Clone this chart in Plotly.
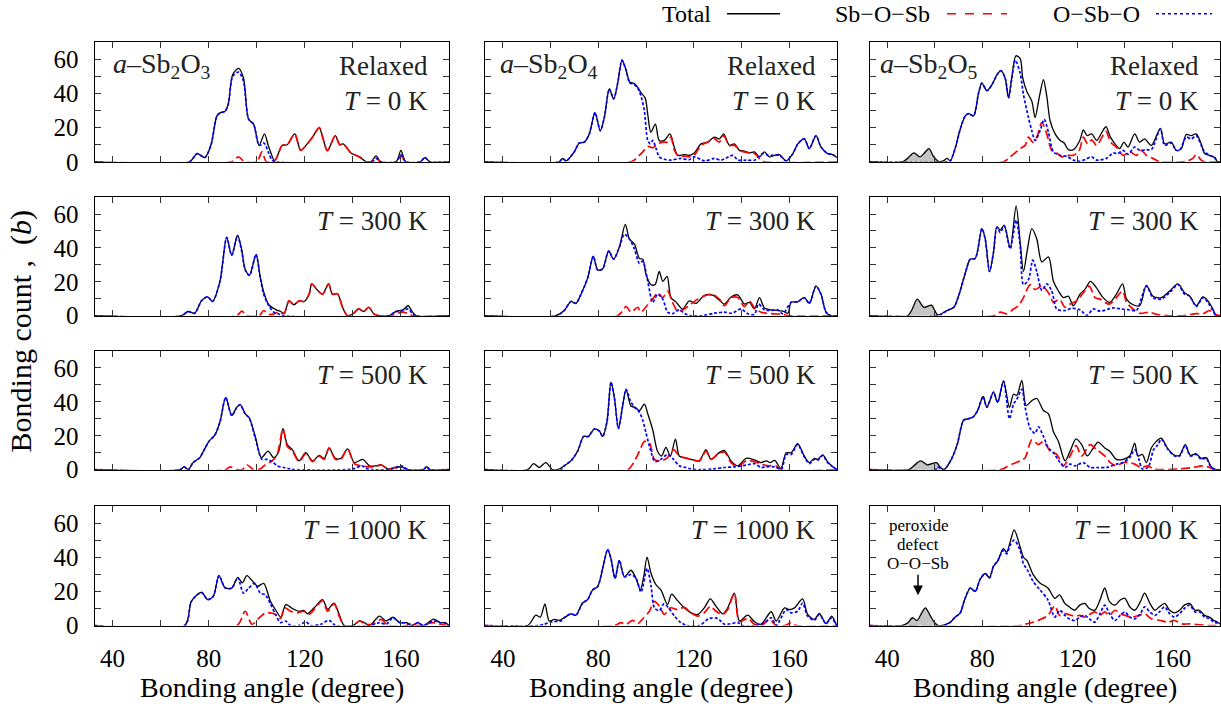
import plotly.graph_objects as go

# ---------------- data (x = bonding angle in degree, y = bonding count) ----------------
# Row 1: Relaxed (T = 0 K)
TOT_11 = [(32.5,0),(72,0),(75.2,4.8),(78.4,2.5),(81,10),(83.5,27),(85,28.8),(86.8,29.5),(88.2,34),(90,51),(92.5,54.7),(94.5,49),(96.6,25),(98.7,22),(101,9.6),(103.2,16.3),(105,8.6),(107.5,0.5),(108.5,3),(110.6,9.6),(112.7,10),(115.8,16.3),(118.3,6.7),(121,10.5),(123.2,14.4),(126,20),(127.5,14),(129.4,6.5),(132.7,15.3),(134.5,10),(136,10.5),(139.2,5.2),(142.7,2.9),(145.5,0),(147.5,0),(149.7,3.5),(151.5,0),(158,0),(160,6.7),(162,0),(168,0),(170,2.5),(172,0),(180,0)]
RED_11 = [(32.5,0),(89.5,0),(92.4,2.9),(95,0),(100,0),(102.2,5.8),(104,0),(107,0),(108.5,3),(110.6,9.6),(112.7,10),(115.8,16.3),(118.3,6.7),(121,10.5),(123.2,14.4),(126,20),(127.5,14),(129.4,6.5),(132.7,15.3),(134.5,10),(136,10.5),(139.2,5.2),(142.7,2.9),(145.5,0),(147.5,0),(149.7,2.3),(151.5,0),(158,0),(160,3.8),(162,0),(180,0)]
BLUE_11 = [(32.5,0),(72,0),(75.2,4.8),(78.4,2.5),(81,10),(83.5,27),(85,28.8),(86.8,29.5),(88.2,34),(90,50),(92.5,52.5),(94.5,47),(96.6,25),(98.7,22),(101,9.6),(103,11),(105,5),(106.4,1),(108,0),(148,0),(149.7,2),(151.5,0),(158,0),(160,4),(162,0),(168,0),(170,2.5),(172,0),(180,0)]

TOT_12 = [(32.5,0),(63.6,0),(65,2),(66.5,0.5),(69.9,5.8),(72,11),(74.1,11.5),(76.2,16.3),(78.6,28.8),(80.8,18.2),(82.5,25.9),(84.6,42.6),(86.4,36.8),(88.1,46),(89.9,59.5),(91.6,53.7),(93.2,46.5),(94.8,46),(96.5,43.5),(97.9,40.3),(99.6,37.4),(100.7,27.8),(102,17.3),(103.9,22),(105.5,12.5),(107.6,12.5),(110,16.3),(111.8,8.6),(113.2,3.8),(116,4.2),(118.1,3.8),(120.2,5.2),(123,10.5),(125.8,11.5),(128.6,14.4),(130.7,13.4),(132.5,16.3),(134.9,9.6),(137,10.5),(139.1,6.7),(141.2,6.3),(143.3,5.2),(145.4,5.8),(147.5,2.9),(149.6,5.8),(151.7,2.9),(153.8,3.8),(155.9,4.2),(158.7,0.6),(161.5,4.8),(163.6,10.5),(166.3,13.4),(168.4,7.7),(171.2,15.3),(173.3,8.6),(176.1,4.8),(178.2,4.2),(180,2.5)]
RED_12 = [(32.5,0),(93.7,0),(96.5,2.9),(98.6,5.8),(100.7,9),(102.8,8.2),(104.9,10.5),(107,11.5),(108.8,11.5),(110.4,14.4),(111.8,7),(113.9,2.9),(116,3.3),(118.1,2.9),(120.2,3.8),(123,9.6),(125.8,11.5),(128.6,13.4),(130.7,11.5),(132.5,15.3),(134.9,9.6),(137,9.6),(139.8,6.3),(142.6,5.4),(145.4,4.8),(148.2,1),(149.6,0),(180,0)]
BLUE_12 = [(32.5,0),(63.6,0),(65,2),(66.5,0.5),(69.9,5.8),(72,11),(74.1,11.5),(76.2,16.3),(78.6,28.8),(80.8,18.2),(82.5,25.9),(84.6,42.6),(86.4,36.8),(88.1,46),(89.9,59.5),(91.6,53.7),(93.2,46),(94.8,45.5),(96.5,43),(97.9,38.4),(99.3,29.7),(100.7,12.5),(101.8,10.5),(102.8,12.5),(104.2,7.7),(105.5,2.9),(107.6,1.5),(110.4,1),(114.6,2),(118,1.2),(120.2,2.9),(124.5,0.5),(128.6,2),(131.5,1),(136.3,3.8),(138.5,1),(142,1),(145.5,1),(148.9,4.8),(151,3.8),(153.8,3.8),(155.9,3.8),(158.7,0.6),(161.5,4.8),(163.6,10.5),(166.3,13.4),(168.4,7.7),(171.2,15.3),(173.3,8.6),(176.1,4.8),(178.2,4.2),(180,2.5)]

GREY_13 = [(46.5,0),(48.5,2),(51.2,5.2),(53.7,2.9),(55.5,5),(57.5,7.7),(59.5,3),(61.5,0)]
TOT_13 = [(32.5,0),(46.5,0),(48.5,2),(51.2,5.2),(53.7,2.9),(55.5,5),(57.5,7.7),(59.5,3),(61.5,0.3),(63.5,0.5),(65.2,2),(66.5,0.5),(68.7,8.6),(70.7,19.2),(72.8,26.9),(74.2,28.2),(76.3,26.9),(78.4,40.3),(79.8,46),(81.9,41.6),(84,45),(86.1,50.8),(87.8,53.3),(89.6,48.9),(91,37.4),(92.4,49.5),(94.1,62),(95.9,60.4),(97,48.9),(98.7,41.2),(100.8,35.5),(102.2,25.9),(103.9,37.4),(105.7,48),(107.1,38.4),(108.5,24),(110.6,16.3),(112.7,12.5),(114.4,11),(116.2,7.1),(118.3,7.1),(121,12.5),(122.5,18.6),(124.1,15.3),(126,16.3),(128.1,12.5),(130.1,16.7),(132,20.5),(133.9,14.4),(135.8,10.5),(137.8,7.7),(139.6,11.5),(141.3,8.6),(144.1,16.3),(146.2,11.5),(148.3,13.4),(151.1,9.6),(154.9,19.6),(156.7,10.5),(159.5,11.5),(161.6,6.7),(163.7,7.7),(165.8,16),(167.9,15.3),(170,16.3),(172.1,10.5),(173.5,4.8),(175.6,3.8),(177.7,2.5),(179,0),(180,0)]
RED_13 = [(32.5,0),(88.9,0),(91.7,2.9),(93.8,5.2),(95.9,7.7),(98,9.6),(99.4,14.4),(101.2,11.5),(102.9,14.4),(105,23),(107.1,16.3),(109.2,6.7),(111.3,5.2),(113.4,2.9),(115.5,3.8),(118.3,3.8),(120.8,6.7),(122.5,14.4),(124.3,10.5),(126,12.8),(128.1,9.6),(132,17.8),(133.9,11.5),(136.4,8.6),(139.2,3.8),(142,5.8),(144.8,3.8),(146.9,6.7),(149,3.8),(151.8,2),(154.6,0),(165.8,0.3),(168.6,2),(170,4.2),(172.1,1),(173.5,0),(180,0)]
BLUE_13 = [(32.5,0),(65.2,0),(66.5,0.5),(68.7,8.6),(70.7,19.2),(72.8,26.9),(74.2,28.2),(76.3,26.9),(78.4,40.3),(79.8,46),(81.9,41.6),(84,45),(86.1,50.8),(87.8,53.3),(89.6,48.9),(91,37.4),(92.4,48.9),(93.9,59.5),(95.9,51.8),(97.3,39.3),(99.4,25.9),(100.8,18.2),(102.2,12.5),(104.3,18.2),(106,24.9),(107.8,17.3),(109.9,5.8),(112.7,3.8),(115.5,3.2),(118.3,1),(121,0.3),(123.5,1.5),(126,2.9),(128,1),(132.2,2),(135,5.2),(137,4.8),(139.2,6.7),(141.3,4.4),(144.1,8.6),(146.2,6.7),(149,7.1),(151.1,7.1),(154.9,19.2),(156.7,9.6),(159.5,11),(161.6,6.7),(163,6.7),(165.8,14.4),(167.9,13.4),(170,15.3),(172.1,9.6),(173.5,5.8),(175.6,3.8),(177.7,2.5),(179,0),(180,0)]

# Row 2: T = 300 K
TOT_21 = [(32.5,0),(68.7,0),(71.4,2.5),(74.2,1.5),(77,8.8),(79.6,11.1),(81.6,8.4),(84.7,20.3),(87.5,46.2),(89.6,35.7),(92,47.5),(93.8,38.5),(95.2,27.5),(97,24),(99.7,36.1),(101.5,22.5),(102.9,14),(105,6.5),(107.8,3.8),(109.9,2.5),(111.5,1.5),(113.4,8.8),(115.5,6.5),(117.6,8.8),(119.7,8.4),(121.8,12.7),(122.9,18.8),(125.3,15),(127.4,12.7),(129.9,18.8),(131.5,12.7),(133.6,13),(135.7,5),(137.8,0),(140,1),(142.4,4),(144.5,2.5),(146.6,5),(148.8,1),(151,0),(155,0),(158.1,2.7),(160.9,3.5),(163,5.9),(164.9,2),(166.5,0),(180,0)]
RED_21 = [(32.5,0),(91.5,0),(93.8,2.7),(95.9,0),(101,0),(102.9,3.1),(104.9,0.8),(107,1),(109.2,2.3),(111.3,1.2),(113.4,8.8),(115.5,6.5),(117.6,8.8),(119.7,8.4),(121.8,12.7),(122.9,18.8),(125.3,15),(127.4,12.7),(129.9,18.8),(131.5,12.7),(133.6,13),(135.7,5),(137.8,0),(140,1),(142.4,4),(144.5,2.5),(146.6,5),(148.8,1),(151,0),(156,0),(158.8,1.5),(160.9,2.1),(163,1.2),(165,0),(180,0)]
BLUE_21 = [(32.5,0),(68.7,0),(71.4,2.5),(74.2,1.5),(77,8.8),(79.6,11.1),(81.6,8.4),(84.7,20.3),(87.5,46.2),(89.6,35.7),(92,47.2),(93.8,37.6),(95.2,27),(97,23.8),(99.7,36.1),(101.5,22.2),(102.9,12.7),(105,6),(107.1,2.1),(109.2,1),(111.3,0),(155,0),(157.4,2.1),(160.9,3.1),(163,4),(165.8,0),(180,0)]

TOT_22 = [(32.5,0),(62.2,0),(65.7,3.1),(68.5,8.4),(70.6,7.3),(72.7,12.7),(75.5,22.2),(77.9,35.1),(79.7,27),(81.8,27.6),(84.3,38.2),(86.4,33.4),(88.8,40.5),(91.3,53.9),(93,45.3),(95.1,42.4),(97.2,33.8),(98.6,33.4),(100,24.2),(102,18.4),(103.8,18.4),(105.5,26.1),(107,20.3),(108.8,23.2),(110.4,10.7),(112.5,8.2),(115.3,4),(118.1,8.8),(120.9,7.3),(124.5,12.1),(127.9,12.1),(130.7,9.2),(132.8,6.9),(135.6,11.1),(138.4,12.3),(141.2,6.9),(143.3,7.9),(145.4,4),(147.5,10.7),(149.6,4.6),(152.4,3.5),(157.3,2.7),(159.4,1.5),(160.8,7.9),(163.5,8.2),(166.3,10.7),(168.4,7.3),(171.2,17.5),(173.3,12.7),(175.4,2.1),(177.5,0),(180,0)]
RED_22 = [(32.5,0),(88.1,0),(91.6,5.4),(93.7,2.1),(96.5,5),(97.9,2.1),(100.7,6.5),(103.2,10.7),(104.8,13.6),(107,10.7),(109,14.6),(111.1,7.9),(113.2,2.7),(116,4),(118.8,6.9),(121.6,9.8),(124.5,11.7),(127.9,12.7),(130.7,9.8),(132.8,5.9),(135.6,10.7),(138.4,10.7),(141.2,5.4),(143.3,8.8),(145.4,4.6),(148.2,2.1),(152.4,1.2),(157.3,0.8),(160.1,0),(180,0)]
BLUE_22 = [(32.5,0),(62.2,0),(65.7,3.1),(68.5,8.4),(70.6,7.3),(72.7,12.7),(75.5,22.2),(77.9,35.1),(79.7,27),(81.8,27.6),(84.3,38.2),(86.4,33.4),(88.8,40.5),(90.9,48.1),(93,45.3),(95.1,39.5),(97.2,30.9),(98.6,32.2),(100.7,20.3),(102.8,7.9),(104.8,12.7),(107,9.8),(109,2.1),(111.1,1.2),(113.9,3.5),(116,1.5),(118.8,0),(124,0.2),(128.6,1.5),(132.8,2.1),(136,1.5),(139.8,4),(142.6,1.2),(145.4,0.8),(147.1,6.9),(149.6,3.5),(152.4,3.1),(155.2,3.5),(157.3,1.2),(160.8,7.9),(163.5,8.2),(166.3,10.7),(168.4,7.3),(171.2,17.5),(173.3,12.7),(175.4,2.1),(177.5,0),(180,0)]

GREY_23 = [(48.5,0),(50.5,4),(52.6,9.8),(55.4,5),(58.6,6.3),(60,3),(61.2,0.5)]
TOT_23 = [(32.5,0),(48.5,0),(50.5,4),(52.6,9.8),(55.4,5),(58.6,6.3),(60,3),(61.2,0.5),(65.2,3.1),(68,5),(70,11.7),(72.8,25.1),(74.9,33.4),(77,33.8),(79.8,51.4),(81.2,45.3),(83,26.1),(84.7,37.6),(86.1,52.5),(87.5,50.5),(89.2,53.5),(91.7,40),(94.2,64.8),(95.9,43.5),(97.3,26.1),(99,39.5),(100.8,51.4),(102.9,45.3),(105,31.8),(107.8,34.7),(109.9,20.3),(112,14.6),(114.1,10.7),(116.2,11.5),(118.3,5.9),(121.1,12.7),(123.2,15.7),(125.5,20.3),(127.8,16.9),(130.8,10.7),(133.6,7.9),(136.4,12.7),(139,18.8),(140.7,9.8),(143.4,6.5),(146.2,5.9),(149,17.9),(151.8,11.5),(155.3,10.7),(158.8,14.6),(162.3,18.8),(165.1,13.6),(167.2,11.7),(170,5.9),(172.8,11.1),(174.9,8.8),(177,4),(178.4,0),(180,0)]
RED_23 = [(32.5,0),(84.7,0),(87.5,2.1),(90.3,1.2),(93.1,4),(95.2,5.9),(97.3,10.7),(100.1,18.4),(102.2,15.5),(105,17.5),(107.8,13.6),(109.9,7.9),(112.4,9.8),(114.8,5),(116.9,6.9),(119.7,8.8),(122.5,13.6),(125,17.5),(127.4,10.7),(129.5,9.8),(131.5,7.9),(133.6,6.9),(136.4,10.7),(139,14.6),(140.7,7.9),(143.4,4),(146.2,1.5),(150.4,2.1),(153.2,0.8),(158.8,0),(164.4,0),(170,1.2),(172.8,1.2),(175.6,3.1),(177.7,0.8),(180,0)]
BLUE_23 = [(32.5,0),(61,0),(65.2,3.1),(68,5),(70,11.7),(72.8,25.1),(74.9,33.4),(77,33.8),(79.8,51.4),(81.2,45.3),(83,26.1),(84.7,37.6),(86.1,52),(87.5,49.1),(89.2,52.9),(91.7,39.5),(94.2,56.4),(95.9,41.4),(97.3,18.4),(99.4,21.3),(101.2,32.8),(102.9,26.1),(105,15),(107.1,18.8),(109.2,14.6),(111.3,4),(114.8,3.1),(117.6,4.4),(121.1,3.5),(123.9,0.2),(126.7,4),(129.5,2.7),(135,4.6),(138.5,4),(142,3.5),(144.8,3.1),(149,17.5),(151.8,10.7),(155.3,9.8),(158.8,13.6),(162.3,18.4),(165.1,12.7),(167.2,11.7),(170,5.4),(172.8,10.7),(174.9,7.9),(177,3.1),(178.4,0),(180,0)]

# Row 3: T = 500 K
TOT_31 = [(32.5,0),(68,0),(69.8,1.7),(71.5,0),(73.5,4.2),(76.3,7.1),(78.2,11.9),(80.1,16.7),(82.6,20.5),(84.7,28.2),(87.1,42.6),(89.6,32),(91.7,36.8),(93.1,38.4),(95.2,33),(96.9,30.5),(99.4,19.6),(101.9,7.1),(104.7,10.9),(107.1,7.1),(109.2,10.9),(110.9,24.4),(112.7,14.8),(114.8,11.9),(117.6,5.2),(120.4,10),(123.2,5.2),(126,8.4),(128.1,6.7),(130.1,12.8),(132.7,6.7),(135,6.7),(137.8,12.3),(140.6,4.2),(144.1,6.1),(146.9,2.3),(149.7,2.3),(151.8,2.9),(154.6,0.4),(157.4,1.3),(160.2,1.7),(163,0),(169.3,0),(170.7,1.7),(172.1,0),(180,0)]
RED_31 = [(32.5,0),(87,0),(88.9,1.7),(91.7,0),(94,0),(95.9,2.9),(98.7,0),(101.5,0.5),(103.6,2.9),(106.4,5.2),(108.5,9),(110.9,24),(112.7,13.8),(114.8,11),(117.6,4.8),(120.4,9.4),(123.2,4.8),(126,8),(128.1,6.1),(130.1,12.8),(132.7,6.1),(135,6.1),(137.8,12.3),(140.6,3.6),(143.4,2.3),(146.9,1.7),(149.7,1.7),(151.8,2.9),(154.6,0),(157.4,1.3),(159.5,0),(180,0)]
BLUE_31 = [(32.5,0),(68,0),(69.8,1.7),(71.5,0),(73.5,4.2),(76.3,7.1),(78.2,11.9),(80.1,16.7),(82.6,20.5),(84.7,28.2),(87.1,42.6),(89.6,32),(91.7,36.8),(93.1,38.4),(95.2,33),(96.9,30.5),(99.4,18.6),(102.2,6.1),(104.3,6.1),(106.4,4.8),(108.5,2.3),(111.3,1.3),(114.1,0.4),(117,0),(140,0.4),(143.8,2.3),(145.5,0.8),(148.3,0),(156.5,0.4),(160.2,2.3),(163,0),(169.3,0),(170.7,1.7),(172.1,0),(180,0)]

TOT_32 = [(32.5,0),(50.3,0),(52.9,3.6),(55.2,1.3),(58,4.2),(60.8,0),(63.5,0.4),(65.7,2.3),(68.5,5.2),(71.3,10.9),(73.8,19.6),(75.8,19.6),(78.3,24),(80.4,22.8),(81.8,19.6),(83.6,28.2),(85.3,51.6),(86.7,42.6),(88.4,24.4),(90.2,37.8),(91.6,47.4),(93.7,37.4),(95.4,36.8),(97.2,34.9),(99.3,38.7),(100.7,33),(102.8,23.4),(104.8,10.9),(106.5,8.1),(108.3,13.2),(110.2,8.1),(112.3,18),(113.9,8.1),(116,7.1),(118.8,6.1),(122.3,5.2),(125.1,11.9),(127.2,6.1),(130,9.4),(132.8,11.3),(135.6,5.2),(138.4,2.3),(141.9,6.7),(145.4,5.8),(148.2,4.2),(150.4,5.2),(152,4.2),(153.9,5.5),(156.5,0.8),(158.7,10),(160.8,10),(163.5,15.3),(166.3,8),(168.4,4.2),(170.5,6.7),(171.9,6.1),(174,8.8),(176.1,4.6),(178.2,1.7),(180,0)]
RED_32 = [(32.5,0),(92.3,0),(94.4,3.3),(97.2,10.9),(99.3,16.7),(101.4,15.7),(103.5,6.1),(106.2,5.2),(109,7.1),(111.6,11.9),(113.9,8.1),(116,7.1),(118.8,6.1),(122.3,5.2),(125.1,11),(127.2,6.1),(130,9),(132.8,10.5),(135.6,4.2),(138.4,1.7),(141.9,5.2),(145.4,4.8),(148.2,3.3),(151,2.3),(154.4,2.3),(156.5,0),(180,0)]
BLUE_32 = [(32.5,0),(64.3,0),(65.7,2.3),(68.5,5.2),(71.3,10.9),(73.8,19.6),(75.8,19.6),(78.3,24),(80.4,22.8),(81.8,19.6),(83.6,28.2),(85.3,51.6),(86.7,42.6),(88.4,24.4),(90.2,37.8),(91.6,47.4),(93.4,40.7),(95.1,36.8),(97.2,33.9),(98.6,29.2),(100,21.5),(101.8,11.9),(103.7,4.8),(106.2,6.1),(109,9),(111.5,6.1),(113.9,2.3),(116.7,1.3),(118.8,0.4),(123,0),(127.9,0.4),(132.8,1.3),(137,1.7),(142.6,2.9),(145.4,3.6),(148.2,1.3),(150.4,1.7),(153.9,1.7),(156.7,0.4),(158.7,9),(160.8,9),(163.5,14.8),(166.3,7.5),(168.4,3.6),(170.5,6.1),(171.9,5.5),(174,8.4),(176.1,4.2),(178.2,1.7),(180,0)]

GREY_33 = [(49,0),(50.5,1.5),(54,5.2),(56.8,2.9),(60.7,4.2),(62.4,1.3),(63.8,0)]
TOT_33 = [(32.5,0),(49,0),(50.5,1.5),(54,5.2),(56.8,2.9),(60.7,4.2),(62.4,1.3),(63.8,0),(66.6,5.2),(69.4,14.8),(72.1,29.2),(74.2,30.1),(76.1,31.1),(78,34.9),(80.3,43.2),(81.9,36.8),(84.7,45.8),(86.4,39.7),(88.9,52.2),(91.4,36.8),(93.1,44.5),(94.5,43.9),(96.6,52.7),(98.4,37.8),(100.8,40.7),(102.9,42),(105.7,34.9),(107.8,33),(109.9,22.4),(112,16.7),(114.8,5.2),(116.9,10.9),(119.4,18.2),(121.8,14.8),(124.1,8.1),(126.7,12.8),(128.7,16.3),(131.5,12.8),(133.6,10.9),(136.4,6.1),(139.2,6.1),(142,8.1),(144.1,15.7),(145.5,8.1),(147.3,9),(149,4.2),(151.1,12.8),(153.2,16.7),(155.3,18.6),(158.1,12.3),(160.9,8.5),(163,8.5),(165.4,14.8),(167.5,8.5),(170,9.4),(172.1,6.7),(174.2,7.1),(176.3,1.7),(178.4,0),(180,0)]
RED_33 = [(32.5,0),(87.5,0),(90.3,1.7),(93.1,3.6),(95.9,5.2),(98,7.1),(100.8,17.6),(103.6,14.8),(105.7,16.7),(108.5,11),(111.3,9),(114.1,2.3),(116.9,8.1),(119.4,14.2),(121.8,8.1),(125.3,14.8),(128.1,11.9),(131.5,8.1),(133.8,4.2),(136.4,2.3),(139.2,4.2),(142,4.2),(144.1,3.3),(146.9,1.3),(149.7,2.3),(151.8,0.4),(155,0),(163,0.4),(168.6,1.3),(172.8,2.3),(175.6,1.3),(177.7,0),(180,0)]
BLUE_33 = [(32.5,0),(60.3,0),(61,1.7),(63.8,0),(66.6,5.2),(69.4,14.8),(72.1,29.2),(74.2,30.1),(76.1,31.1),(78,34.9),(80.3,43.2),(81.9,36.8),(84.7,45.8),(86.4,39.7),(88.9,52.2),(91.4,30.1),(93.1,38.7),(94.5,41.6),(96.6,47.4),(98,36.8),(100.1,24.4),(102.2,21.5),(103.6,25.3),(105.7,19.6),(107.8,12.8),(109.9,10),(112.7,4.2),(114.8,1.3),(116.9,3.3),(119,2.3),(122.5,4.2),(125.3,1.3),(128.1,1.3),(132.3,1.3),(136.4,3.3),(139.2,4.2),(142,7.1),(144.1,11.9),(145.9,6.1),(147.3,0.4),(149.7,1.3),(152.1,11.9),(153.9,14.8),(155.3,18),(158.1,11.9),(160.9,8.1),(163,8.1),(165.4,14.4),(167.5,8.1),(170,9),(172.1,6.1),(174.2,6.7),(176.3,1.3),(178.4,0),(180,0)]

# Row 4: T = 1000 K
TOT_41 = [(32.5,0),(70,0),(72.8,14.2),(77,19.4),(79.6,15.2),(81.9,17.1),(84.3,29.2),(86.8,22.2),(89.6,21.9),(92.1,28.2),(94,25),(95.9,29.2),(98.7,25.3),(100.4,23),(102.9,24.7),(105.7,14.2),(108.2,8.4),(110,5),(112.1,12.3),(114.8,10),(117.6,8.4),(119.7,8.8),(121.1,6.9),(123.9,10.4),(127.4,15.2),(129.5,9.6),(132.2,13.2),(134.3,6.5),(136.4,0),(140,0),(142.7,2.7),(144.8,1.7),(146.9,0),(151.1,5.6),(153.9,2.7),(156.7,5),(159.5,1.7),(162.3,1.7),(164.4,0),(167.2,1.7),(169.3,0),(173.6,3.8),(176.4,1.7),(178.4,1.7),(180,0)]
RED_41 = [(32.5,0),(91.7,0),(95.2,8.4),(98,0.8),(100.8,4.2),(103.6,7.5),(105.7,7.5),(107.8,6.5),(109.9,4.2),(111.7,10.4),(114.1,8.4),(116.9,7.5),(119.7,8.4),(121.8,6.5),(123.9,9.4),(127.4,14.6),(129.5,8.4),(132.2,12.7),(134.3,5.6),(136.4,0),(140,0),(142.7,2.7),(145.5,0.8),(148.3,0.8),(151.8,3.6),(154.6,0),(162.3,0),(164.4,1.7),(166.5,0),(173.6,1.7),(176.4,0.8),(179,0),(180,0)]
BLUE_41 = [(32.5,0),(70,0),(72.8,14.2),(77,19.4),(79.6,15.2),(81.9,17.1),(84.3,29.2),(86.8,22.2),(89.6,21.9),(92.1,28),(94.5,19),(96.6,21.9),(99.1,24.7),(101.5,19),(103.6,18),(105.7,12.7),(107.8,6.5),(109.9,1.7),(112,2.7),(114.1,0),(117.6,0),(120.4,2.3),(122.5,0),(126.7,0.8),(130.1,3.1),(132.9,0),(147,0),(151.1,1.7),(153.9,0.8),(156.7,4.6),(159.5,1.7),(162.3,1.7),(164.4,0),(167.2,1.7),(169.3,0),(173.6,2.7),(176.4,1.7),(178.4,1.3),(180,0)]

TOT_42 = [(32.5,0),(50.3,0),(53.8,6.1),(55.7,5),(57.6,12.7),(59.4,2.7),(61.5,3.6),(63.6,3.1),(65.7,4.6),(68.5,6.9),(70.6,6.1),(73.4,13.2),(75.5,15.2),(77.6,20.9),(79.7,22.8),(81.8,33.4),(83.9,44.5),(85.3,39.1),(87,27.6),(88.8,38.2),(90.9,28.6),(93.7,32.4),(95.8,27.6),(97.6,20.9),(99,28.6),(100.4,40.1),(102.1,30.5),(104.2,23.8),(106.2,20.9),(109,12.3),(110.7,18.4),(113.2,14.6),(116,10.4),(118.8,7.5),(121.6,6.5),(124.4,10.4),(126.9,15.7),(129.3,11.3),(132.1,6.9),(134.2,10.4),(137,19),(139.1,2.7),(142.6,6.1),(145.4,2.3),(148.2,0.8),(152.4,8.1),(154.5,2.7),(158,10.4),(160.1,9.4),(162.2,10.4),(165.6,15.7),(167.7,6.5),(170.5,3.6),(172.6,7.1),(175.4,1.2),(177.8,5.6),(179.5,1.2),(180,0)]
RED_42 = [(32.5,0),(86.7,0),(89.5,1.7),(91.6,0.8),(94.4,3.1),(96.5,1.2),(99,4.6),(101.4,8.4),(103.5,14.2),(105.6,11.3),(107.6,6.5),(110.2,10.4),(113.2,9.4),(116,10.7),(118.8,7.5),(121.6,5.6),(124.4,7.5),(126.9,11.3),(129.3,8.4),(132.1,6.5),(134.2,9.4),(137,19),(139.1,2.3),(142.6,4.2),(145.4,0.8),(148.2,0),(151.7,3.6),(154.5,0),(158,0),(160.8,1.7),(162.9,0),(180,0)]
BLUE_42 = [(32.5,0),(54.5,0),(57.3,0.8),(60.8,2.3),(64.3,2.7),(65.7,4.6),(68.5,6.9),(70.6,6.1),(73.4,13.2),(75.5,15.2),(77.6,20.9),(79.7,22.8),(81.8,33.4),(83.9,44.5),(85.3,39.1),(87,27.6),(88.8,38.2),(90.9,28.6),(93.7,29.9),(95.8,27.6),(97.9,19.6),(100.4,33.4),(102.1,23),(103.5,10.4),(105.6,8.8),(107.4,12.7),(109.4,10.4),(111.9,5.6),(114.6,1.7),(117.4,0),(122.3,0),(126.5,4.2),(130,4.2),(132.8,0.8),(138.4,1.7),(140.5,0),(145.4,0),(149.6,1.7),(152.4,4.6),(154.5,0),(156.6,4.6),(158.7,9.4),(160.8,7.5),(163.5,8.4),(165.6,13.2),(167.7,5.6),(170.5,3.1),(172.6,6.5),(175.4,1.2),(177.8,4.6),(179.5,0.8),(180,0)]

GREY_43 = [(46,0),(48.5,1.5),(50.6,4.6),(52.5,3),(54.5,7.5),(56,10.4),(58,6),(60,1.5),(61.5,0)]
TOT_43 = [(32.5,0),(46,0),(48.5,1.5),(50.6,4.6),(52.5,3),(54.5,7.5),(56,10.4),(58,6),(60,1.5),(61.5,0),(64,0.5),(66.5,2),(68.6,5),(70.7,7.5),(72.5,15),(74.9,22),(77,20),(79,27),(81.2,30.5),(83,28),(84.6,34.5),(86.5,38),(88.8,45),(90.2,43),(91.7,49),(93.4,56),(95.9,46),(97.3,40),(98.8,38),(101.3,30),(104.2,25),(107.6,22),(110.5,16),(112.5,18),(114.7,13),(116.5,11),(118.9,9),(121,12),(123.1,13),(125,10),(127.3,9),(129.5,15),(131.5,22),(133.5,14),(135.8,12),(138,15),(140,16),(142,11),(144.2,9),(146.5,14),(148.3,19),(150.5,13),(152.6,9),(154.5,11),(156.7,13),(158.8,9),(160.9,7.5),(163,9),(165,12),(167.2,13),(169.5,9),(171.4,9),(173.5,6),(175.6,5),(177.5,3),(179,2),(180,1)]
RED_43 = [(32.5,0),(96,0),(98.5,1),(101.3,2),(104.2,3.5),(107.6,6),(110.5,11.5),(112.5,6),(114.7,7),(118.9,5.5),(121,6),(123.1,5),(127.3,8),(129.5,6),(131.5,8),(133.5,6),(135.8,9),(138,7),(140,6),(143,5),(146,6),(148.3,7),(151,4),(155,3),(158,2),(160.9,3),(164,1),(167.2,1),(171.4,0.5),(175,0),(180,0)]
BLUE_43 = [(32.5,0),(64,0),(66.5,2),(68.6,5),(70.7,7.5),(72.5,15),(74.9,22),(77,20),(79,27),(81.2,30.5),(83,28),(84.6,34.5),(86.5,38),(88.8,44),(90.2,42),(91.7,47),(93.4,50),(95.9,44),(97.3,36),(98.8,33),(101.3,26),(104.2,21),(107.6,15),(110.5,5),(112.5,9),(114.7,6),(116.5,4),(118.9,3),(121,5),(123.1,6),(125,4),(127.3,2),(129.5,7),(131.5,12),(133.5,7),(135.8,3),(138,6),(140,8),(142,5),(144.2,4),(146.5,7),(148.3,11),(150.5,8),(152.6,6),(154.5,8),(156.7,11),(158.8,7),(160.9,5),(163,7),(165,10),(167.2,12),(169.5,8),(171.4,8),(173.5,5),(175.6,4),(177.5,2),(179,1.5),(180,1)]

TOTAL = [[TOT_11, TOT_12, TOT_13], [TOT_21, TOT_22, TOT_23], [TOT_31, TOT_32, TOT_33], [TOT_41, TOT_42, TOT_43]]
SBOSB = [[RED_11, RED_12, RED_13], [RED_21, RED_22, RED_23], [RED_31, RED_32, RED_33], [RED_41, RED_42, RED_43]]
OSBO = [[BLUE_11, BLUE_12, BLUE_13], [BLUE_21, BLUE_22, BLUE_23], [BLUE_31, BLUE_32, BLUE_33], [BLUE_41, BLUE_42, BLUE_43]]
PEROXIDE = [GREY_13, GREY_23, GREY_33, GREY_43]

MATERIALS = ["<i>a</i>–Sb<sub>2</sub>O<sub>3</sub>", "<i>a</i>–Sb<sub>2</sub>O<sub>4</sub>", "<i>a</i>–Sb<sub>2</sub>O<sub>5</sub>"]
TEMPS = ["Relaxed<br><i>T</i> = 0 K", "<i>T</i> = 300 K", "<i>T</i> = 500 K", "<i>T</i> = 1000 K"]
X_TICKS = [40, 60, 80, 100, 120, 140, 160, 180]
X_LABELS = ["40", "", "80", "", "120", "", "160", ""]
Y_TICKS = [0, 10, 20, 30, 40, 50, 60, 70]
Y_LABELS = ["0", "", "20", "", "40", "", "60", ""]
X_RANGE = [32.5, 180]
Y_RANGE = [0, 70]
PEROXIDE_NOTE = ["peroxide", "defect", "O−O−Sb"]

# ---------------- layout (pixels) ----------------
W, H = 1221, 721
COL_PX = [(94.5, 449), (485, 837), (869.5, 1220)]
ROW_PX = [(43, 165), (201, 322), (358, 479), (516, 638)]
FONT = "Liberation Serif"

def px_x(p):
    return p / W

def px_y(p):
    return 1 - p / H

def xs(pairs):
    return [p[0] for p in pairs]

def ys(pairs):
    return [p[1] for p in pairs]

fig = go.Figure()
layout = dict(
    width=W, height=H, margin=dict(l=0, r=0, t=0, b=0),
    paper_bgcolor="white", plot_bgcolor="white", showlegend=False,
    font=dict(family=FONT, size=24, color="black"),
)
annotations = []
shapes = []

for r in range(4):
    for c in range(3):
        n = r * 3 + c + 1
        sx = "" if n == 1 else str(n)
        xref, yref = "x" + sx, "y" + sx
        x0, x1 = COL_PX[c]
        y0, y1 = ROW_PX[r]
        layout["xaxis" + sx] = dict(
            domain=[px_x(x0), px_x(x1)], anchor=yref, range=X_RANGE,
            tickvals=X_TICKS, ticktext=X_LABELS, showticklabels=(r == 3),
            ticks="inside", ticklen=6, tickwidth=1, tickcolor="#333",
            showline=True, linecolor="black", linewidth=1, mirror="ticks",
            showgrid=False, zeroline=False, ticklabelstandoff=10,
            tickfont=dict(family=FONT, size=25, color="black"),
        )
        layout["yaxis" + sx] = dict(
            domain=[px_y(y1), px_y(y0)], anchor=xref, range=Y_RANGE,
            tickvals=Y_TICKS, ticktext=Y_LABELS, showticklabels=(c == 0),
            ticks="inside", ticklen=6, tickwidth=1, tickcolor="#333",
            showline=True, linecolor="black", linewidth=1, mirror="ticks",
            showgrid=False, zeroline=False, ticklabelstandoff=10,
            tickfont=dict(family=FONT, size=25, color="black"),
        )
        if c == 2:
            g = PEROXIDE[r]
            fig.add_trace(go.Scatter(x=xs(g), y=ys(g), xaxis=xref, yaxis=yref, mode="lines",
                                     fill="tozeroy", fillcolor="#c4c4c4",
                                     line=dict(color="rgba(0,0,0,0)", width=0, shape="spline", smoothing=0.8),
                                     hoverinfo="skip"))
        t = TOTAL[r][c]
        fig.add_trace(go.Scatter(x=xs(t), y=ys(t), xaxis=xref, yaxis=yref, mode="lines",
                                 line=dict(color="black", width=1.3, shape="spline", smoothing=0.8)))
        s = SBOSB[r][c]
        fig.add_trace(go.Scatter(x=xs(s), y=ys(s), xaxis=xref, yaxis=yref, mode="lines",
                                 line=dict(color="#ff0000", width=1.7, dash="9px,4px", shape="spline", smoothing=0.8)))
        o = OSBO[r][c]
        fig.add_trace(go.Scatter(x=xs(o), y=ys(o), xaxis=xref, yaxis=yref, mode="lines",
                                 line=dict(color="#0000ff", width=1.7, dash="3px,2px", shape="spline", smoothing=0.8)))

        # temperature label (top right)
        annotations.append(dict(xref="paper", yref="paper", x=px_x(x1 - 19), y=px_y(y0 + 7),
                                xanchor="right", yanchor="top", text=TEMPS[r], showarrow=False,
                                align="right", font=dict(family=FONT, size=27, color="#222")))
        if r == 0:
            annotations.append(dict(xref="paper", yref="paper", x=px_x(x0 + [16, 13, 8][c]), y=px_y(y0 + 24),
                                    xanchor="left", yanchor="middle", text=MATERIALS[c], showarrow=False,
                                    font=dict(family=FONT, size=28, color="#222")))
        if r == 3:
            annotations.append(dict(xref="paper", yref="paper", x=px_x((x0 + x1) / 2), y=px_y(701),
                                    xanchor="center", yanchor="middle", text="Bonding angle (degree)",
                                    showarrow=False, font=dict(family=FONT, size=28, color="black")))

# y-axis title
annotations.append(dict(xref="paper", yref="paper", x=px_x(21), y=px_y(338), xanchor="center", yanchor="middle",
                        text="Bonding count&nbsp;, &nbsp;(<i>b</i>)", textangle=-90, showarrow=False,
                        font=dict(family=FONT, size=30, color="black")))

# peroxide annotation: three text lines and an arrow
for i, line in enumerate(PEROXIDE_NOTE):
    annotations.append(dict(xref="paper", yref="paper", x=px_x(918), y=px_y(536 + 19.5 * i),
                            xanchor="center", yanchor="middle", text=line, showarrow=False,
                            font=dict(family=FONT, size=17, color="black")))
annotations.append(dict(xref="paper", yref="paper", x=px_x(918), y=px_y(607), ax=0, ay=-22,
                        text="", showarrow=True, arrowhead=2, arrowsize=1.3, arrowwidth=1.5,
                        arrowcolor="black"))

# legend (text then line sample)
LEG = [("Total", 713, 727, 780, "black", "solid"),
       ("Sb−O−Sb", 932, 947, 1007, "#ff0000", "dash"),
       ("O−Sb−O", 1142, 1156, 1212, "#0000ff", "dot")]
for name, tx, l0, l1, col, dash in LEG:
    annotations.append(dict(xref="paper", yref="paper", x=px_x(tx), y=px_y(14), xanchor="right", yanchor="middle",
                            text=name, showarrow=False, font=dict(family=FONT, size=24, color="black")))
    shapes.append(dict(type="line", xref="paper", yref="paper", x0=px_x(l0), x1=px_x(l1), y0=px_y(14), y1=px_y(14),
                       line=dict(color=col, width=1.5, dash=dash)))

layout["annotations"] = annotations
layout["shapes"] = shapes
fig.update_layout(**layout)
fig.write_html("out.html")
